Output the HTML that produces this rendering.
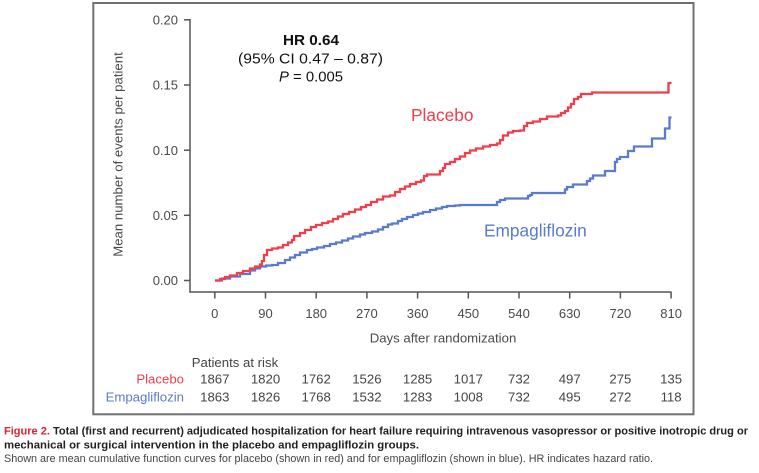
<!DOCTYPE html>
<html>
<head>
<meta charset="utf-8">
<style>
html,body{margin:0;padding:0;background:#fff;}
body{width:759px;height:473px;overflow:hidden;}
svg{display:block;}
text{font-family:"Liberation Sans",Arial,sans-serif;}
</style>
</head>
<body>
<svg width="759" height="473" viewBox="0 0 759 473" xmlns="http://www.w3.org/2000/svg">
  <!-- frame -->
  <rect x="93.3" y="3" width="600.2" height="411.3" fill="none" stroke="#707070" stroke-width="2"/>

  <!-- axes -->
  <g stroke="#555" stroke-width="1.5" fill="none">
    <line x1="190" y1="19" x2="190" y2="292.5"/>
    <line x1="189.3" y1="292" x2="671.5" y2="292"/>
    <!-- y ticks -->
    <line x1="184" y1="19.8" x2="190" y2="19.8"/>
    <line x1="184" y1="85" x2="190" y2="85"/>
    <line x1="184" y1="150.2" x2="190" y2="150.2"/>
    <line x1="184" y1="215.3" x2="190" y2="215.3"/>
    <line x1="184" y1="280.5" x2="190" y2="280.5"/>
    <!-- x ticks -->
    <line x1="214.8" y1="292" x2="214.8" y2="298.5"/>
    <line x1="265.5" y1="292" x2="265.5" y2="298.5"/>
    <line x1="316.2" y1="292" x2="316.2" y2="298.5"/>
    <line x1="366.9" y1="292" x2="366.9" y2="298.5"/>
    <line x1="417.6" y1="292" x2="417.6" y2="298.5"/>
    <line x1="468.3" y1="292" x2="468.3" y2="298.5"/>
    <line x1="519" y1="292" x2="519" y2="298.5"/>
    <line x1="569.7" y1="292" x2="569.7" y2="298.5"/>
    <line x1="620.4" y1="292" x2="620.4" y2="298.5"/>
    <line x1="671.1" y1="292" x2="671.1" y2="298.5"/>
  </g>

  <!-- y tick labels -->
  <g font-size="13" fill="#4a4a4a" text-anchor="end">
    <text x="178" y="24.5">0.20</text>
    <text x="178" y="89.7">0.15</text>
    <text x="178" y="154.9">0.10</text>
    <text x="178" y="220">0.05</text>
    <text x="178" y="285.2">0.00</text>
  </g>

  <!-- x tick labels -->
  <g font-size="13" fill="#4a4a4a" text-anchor="middle">
    <text x="214.8" y="318">0</text>
    <text x="265.5" y="318">90</text>
    <text x="316.2" y="318">180</text>
    <text x="366.9" y="318">270</text>
    <text x="417.6" y="318">360</text>
    <text x="468.3" y="318">450</text>
    <text x="519" y="318">540</text>
    <text x="569.7" y="318">630</text>
    <text x="620.4" y="318">720</text>
    <text x="671.1" y="318">810</text>
  </g>

  <!-- axis titles -->
  <text x="443" y="342.5" font-size="13.2" fill="#4a4a4a" text-anchor="middle">Days after randomization</text>
  <text transform="translate(122.5,154.5) rotate(-90)" font-size="13.2" fill="#4a4a4a" text-anchor="middle">Mean number of events per patient</text>

  <!-- HR annotation -->
  <text x="311" y="45" font-size="14.5" font-weight="bold" fill="#111" text-anchor="middle" textLength="56" lengthAdjust="spacingAndGlyphs">HR 0.64</text>
  <text x="310.5" y="63.3" font-size="14.5" fill="#111" text-anchor="middle" textLength="145" lengthAdjust="spacingAndGlyphs">(95% CI 0.47 – 0.87)</text>
  <text x="311" y="81.7" font-size="14.5" fill="#111" text-anchor="middle" textLength="64" lengthAdjust="spacingAndGlyphs"><tspan font-style="italic">P</tspan> = 0.005</text>

  <!-- series labels -->
  <text x="411" y="121" font-size="17.3" fill="#ef3e4c">Placebo</text>
  <text x="484" y="236.5" font-size="17.3" fill="#5a7bcb">Empagliflozin</text>

  <!-- curves -->
  <path fill="none" stroke="#5a7bcb" stroke-width="2.3" stroke-linejoin="miter" d="M215,280.5 H222 V278.5 H230 V276.5 H240 V274 H250 V270.5 H255 V268.5 H260 V266.5 H266 V265.5 H272 V265 H278 V263 H285 V260 H290 V257.5 H295 V255 H300 V252.5 H307 V250 H312 V249 H317 V247.5 H324 V246 H330 V244 H336 V242.5 H342 V240.5 H348 V238.5 H353 V236.5 H360 V234.5 H365 V233 H372 V231.5 H378 V229.5 H383 V227 H388 V224.5 H392 V223.5 H398 V221 H402 V219 H407 V217 H413 V215 H418 V213.5 H423 V212 H430 V210 H436 V208.5 H442 V207 H447 V206 H455 V205.5 H460 V205 H497 V202 H500 V200 H505 V198.5 H528 V196 H530 V195 H532 V193 H565 V189.5 H567 V187 H573 V184.5 H587 V181 H590 V178.5 H593 V175.5 H605 V171 H615 V162 H617 V159 H620 V157 H628 V151 H634 V146.5 H652 V138.5 H665 V128.5 H669.5 V117.5 H671.5"/>
  <path fill="none" stroke="#ef3e4c" stroke-width="2.3" stroke-linejoin="miter" d="M215,280.5 H220 V279 H225 V277 H230 V275.5 H237 V273 H243 V271 H250 V268.5 H255 V266.5 H260 V264.5 H262 V261 H264 V255 H267 V250 H272 V248.5 H278 V247.5 H283 V245 H288 V242.5 H292 V240 H294 V236 H300 V233 H305 V230 H311 V227 H316 V225 H322 V223 H328 V221.5 H333 V219 H338 V216.5 H343 V214 H349 V212 H355 V209.5 H361 V207 H366 V205 H371 V202 H377 V199.5 H383 V196.5 H390 V195.5 H395 V192 H400 V189 H405 V186.5 H410 V184 H416 V182 H421 V180.5 H424 V176 H427 V174.5 H440 V171 H443 V168 H445 V164 H450 V162 H455 V159 H460 V156.5 H465 V153 H470 V150.5 H476 V148.5 H483 V146.5 H490 V145 H497 V143.5 H500 V140 H503 V135.5 H508 V132.5 H513 V131 H520 V130.5 H524 V126 H527 V123 H533 V121.5 H540 V119 H547 V116.5 H558 V115.5 H561 V113 H565 V111 H568 V107.5 H571 V104 H574 V99 H578 V97 H581 V94 H592 V92.5 H668.5 V83 H671.5"/>

  <!-- patients at risk -->
  <text x="191.7" y="367" font-size="13.2" fill="#444">Patients at risk</text>
  <text x="184" y="383.3" font-size="13.2" fill="#ef3e4c" text-anchor="end">Placebo</text>
  <text x="184" y="401.7" font-size="13.2" fill="#5a7bcb" text-anchor="end">Empagliflozin</text>
  <g font-size="13.2" fill="#444" text-anchor="middle">
    <text x="214.8" y="383.3">1867</text>
    <text x="265.5" y="383.3">1820</text>
    <text x="316.2" y="383.3">1762</text>
    <text x="366.9" y="383.3">1526</text>
    <text x="417.6" y="383.3">1285</text>
    <text x="468.3" y="383.3">1017</text>
    <text x="519" y="383.3">732</text>
    <text x="569.7" y="383.3">497</text>
    <text x="620.4" y="383.3">275</text>
    <text x="671.1" y="383.3">135</text>
    <text x="214.8" y="401.7">1863</text>
    <text x="265.5" y="401.7">1826</text>
    <text x="316.2" y="401.7">1768</text>
    <text x="366.9" y="401.7">1532</text>
    <text x="417.6" y="401.7">1283</text>
    <text x="468.3" y="401.7">1008</text>
    <text x="519" y="401.7">732</text>
    <text x="569.7" y="401.7">495</text>
    <text x="620.4" y="401.7">272</text>
    <text x="671.1" y="401.7">118</text>
  </g>

  <!-- caption -->
  <text x="4" y="434.3" font-size="11" font-weight="bold" fill="#222" textLength="744" lengthAdjust="spacingAndGlyphs"><tspan fill="#d9232f">Figure 2.</tspan> Total (first and recurrent) adjudicated hospitalization for heart failure requiring intravenous vasopressor or positive inotropic drug or</text>
  <text x="4" y="448.3" font-size="11" font-weight="bold" fill="#222" textLength="415" lengthAdjust="spacingAndGlyphs">mechanical or surgical intervention in the placebo and empagliflozin groups.</text>
  <text x="4" y="461.8" font-size="11" fill="#444" textLength="649" lengthAdjust="spacingAndGlyphs">Shown are mean cumulative function curves for placebo (shown in red) and for empagliflozin (shown in blue). HR indicates hazard ratio.</text>
</svg>
</body>
</html>
